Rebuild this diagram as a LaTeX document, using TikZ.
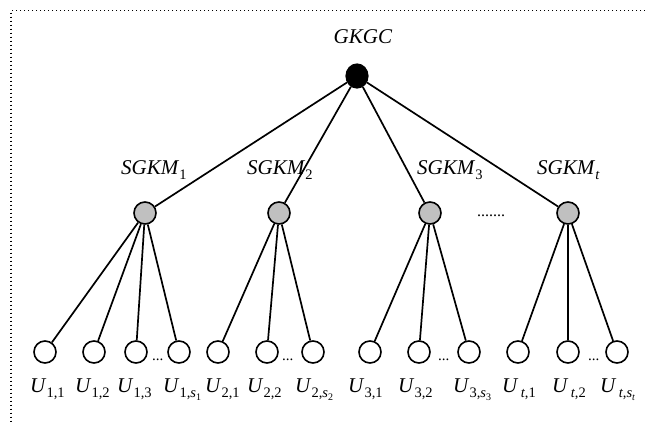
\documentclass[tikz,border=0pt]{standalone}
\usepackage{fontspec}
\setmainfont{Liberation Serif}
\usetikzlibrary{shapes.geometric}
\definecolor{nodegray}{RGB}{192,192,192}
\newcommand{\bigtxt}{\fontsize{21pt}{24pt}\selectfont}
\newcommand{\subtxt}{\fontsize{14.5pt}{16pt}\selectfont}
\newcommand{\subsubtxt}{\fontsize{10pt}{12pt}\selectfont}
\newcommand{\lsub}[1]{\raisebox{-5pt}{\subtxt #1}}
\newcommand{\ssub}[1]{\textit{s}\raisebox{-3pt}{\subsubtxt #1}}
\begin{document}
\begin{tikzpicture}[x=1pt,y=-1pt,
  conn/.style={line width=1.7pt},
  rootnode/.style={ellipse,draw,fill=black,line width=1.2pt,minimum width=22pt,minimum height=24pt,inner sep=0pt},
  midnode/.style={circle,draw,fill=nodegray,line width=1.6pt,minimum size=22pt,inner sep=0pt},
  leafnode/.style={circle,draw,fill=white,line width=1.6pt,minimum size=22pt,inner sep=0pt},
  lbl/.style={anchor=base west,inner sep=0pt,font=\bigtxt},
  frameline/.style={line width=1.2pt,dash pattern=on 1.2pt off 2.8pt}
]
\useasboundingbox (0,0) rectangle (645,421);
% frame
\coordinate (fTR) at (645,10.5);
\coordinate (fTL) at (11,10.5);
\coordinate (fBL) at (11,421);
\draw[frameline] (fTR) -- (fTL) -- (fBL);

% root
\node[rootnode] (root) at (357,76) {};
\node[anchor=base,inner sep=0pt,font=\bigtxt] (rootlbl) at (363,43) {\textit{GKGC}};

% middle nodes
\node[midnode] (g1) at (145,213) {};
\node[midnode] (g2) at (279,213) {};
\node[midnode] (g3) at (430,213) {};
\node[midnode] (gt) at (568,213) {};
\node[lbl] (g1l) at (121,174) {\textit{SGKM}\lsub{1}};
\node[lbl] (g2l) at (247,174) {\textit{SGKM}\lsub{2}};
\node[lbl] (g3l) at (417,174) {\textit{SGKM}\lsub{3}};
\node[lbl] (gtl) at (537,174) {\textit{SGKM}\lsub{\textit{t}}};
\node[anchor=base west,inner sep=0pt,font=\fontsize{16pt}{18pt}\selectfont] (gdots) at (477,216) {.......};

% leaves
\foreach \n/\x in {a1/45,a2/94,a3/136,a4/179,b1/218,b2/267,b3/313,c1/370,c2/419,c3/469,d1/518,d2/568,d3/617}
  \node[leafnode] (\n) at (\x,352) {};

% small dots
\foreach \n/\x in {da/152,db/282,dc/438,dd/588}
  \node[anchor=base west,inner sep=0pt,font=\fontsize{15pt}{17pt}\selectfont] (\n) at (\x,360) {...};

% leaf labels
\node[lbl] (a1l) at (30,392) {\textit{U}\lsub{1,1}};
\node[lbl] (a2l) at (75,392) {\textit{U}\lsub{1,2}};
\node[lbl] (a3l) at (117,392) {\textit{U}\lsub{1,3}};
\node[lbl] (a4l) at (163,392) {\textit{U}\lsub{1,\ssub{1}}};
\node[lbl] (b1l) at (205,392) {\textit{U}\lsub{2,1}};
\node[lbl] (b2l) at (247,392) {\textit{U}\lsub{2,2}};
\node[lbl] (b3l) at (295,392) {\textit{U}\lsub{2,\ssub{2}}};
\node[lbl] (c1l) at (348,392) {\textit{U}\lsub{3,1}};
\node[lbl] (c2l) at (398,392) {\textit{U}\lsub{3,2}};
\node[lbl] (c3l) at (453,392) {\textit{U}\lsub{3,\ssub{3}}};
\node[lbl] (d1l) at (502,392) {\textit{U}\lsub{\,\textit{t},1}};
\node[lbl] (d2l) at (552,392) {\textit{U}\lsub{\,\textit{t},2}};
\node[lbl] (d3l) at (600,392) {\textit{U}\lsub{\,\textit{t},\ssub{\textit{t}}}};

% connectors
\foreach \g in {g1,g2,g3,gt} \draw[conn] (root) -- (\g);
\foreach \l in {a1,a2,a3,a4} \draw[conn] (g1) -- (\l);
\foreach \l in {b1,b2,b3} \draw[conn] (g2) -- (\l);
\foreach \l in {c1,c2,c3} \draw[conn] (g3) -- (\l);
\foreach \l in {d1,d2,d3} \draw[conn] (gt) -- (\l);
\end{tikzpicture}
\end{document}
